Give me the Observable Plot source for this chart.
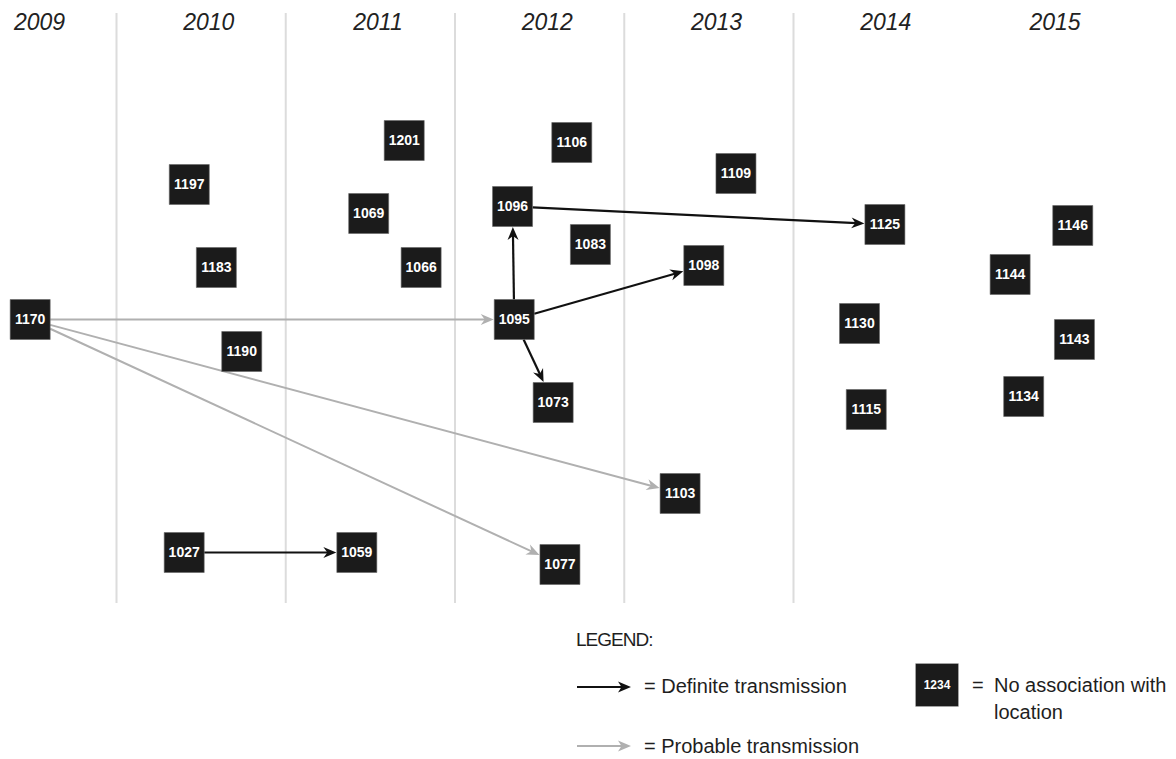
<!DOCTYPE html>
<html>
<head>
<meta charset="utf-8">
<script src="https://cdn.jsdelivr.net/npm/d3@7"></script>
<script src="https://cdn.jsdelivr.net/npm/@observablehq/plot@0.6"></script>
<style>
  html, body { margin: 0; padding: 0; background: #fff; }
  body { font-family: "Liberation Sans", Arial, Helvetica, sans-serif; }
  #wrap { position: relative; width: 1176px; height: 759px; overflow: hidden; }
  #chart { position: absolute; left: 0; top: 0; }
  .lg { position: absolute; font-size: 20px; line-height: 1; color: #1e1e1e; white-space: nowrap; }
  .lgbox { position: absolute; width: 42px; height: 42px; background: #1b1b1b; box-shadow: 0 0 0 0.6px #666;
           color: #fff; font-weight: bold; font-size: 12px; display: flex; align-items: center; justify-content: center; }
  .lgarrow { position: absolute; }
</style>
</head>
<body>
<div id="wrap">
  <div id="chart"></div>
  <div class="lg" style="left:576px; top:630px; font-size:19px; letter-spacing:-1px;">LEGEND:</div>
  <svg class="lgarrow" style="left:570px; top:677px;" width="70" height="20"><line x1="7" y1="10" x2="52" y2="10" stroke="#111" stroke-width="2.2"/><path d="M61,10 L48,4.5 L51.5,10 L48,15.5 Z" fill="#111"/></svg>
  <div class="lg" style="left:644px; top:676px;">= Definite transmission</div>
  <div class="lgbox" style="left:916px; top:664px;">1234</div>
  <div class="lg" style="left:972px; top:675px;">=</div>
  <div class="lg" style="left:994px; top:675px;">No association with</div>
  <div class="lg" style="left:994px; top:702px;">location</div>
  <svg class="lgarrow" style="left:570px; top:736px;" width="70" height="20"><line x1="7" y1="10" x2="52" y2="10" stroke="#b0b0b0" stroke-width="2"/><path d="M61,10 L48,4.5 L51.5,10 L48,15.5 Z" fill="#b0b0b0"/></svg>
  <div class="lg" style="left:644px; top:736px;">= Probable transmission</div>
</div>
<script>
// ---- data ----
const years = [2009, 2010, 2011, 2012, 2013, 2014, 2015];
const yearBoundaries = [2010, 2011, 2012, 2013, 2014];

const nodeIds   = ["1170", "1197", "1183", "1190", "1027",
                   "1201", "1069", "1066", "1059",
                   "1106", "1096", "1083", "1095", "1073", "1077",
                   "1109", "1098", "1103",
                   "1125", "1130", "1115",
                   "1146", "1144", "1143", "1134"];
// horizontal position, in fractional years
const nodeYear  = [2009.49, 2010.43, 2010.59, 2010.74, 2010.40,
                   2011.70, 2011.49, 2011.80, 2011.42,
                   2012.69, 2012.34, 2012.80, 2012.35, 2012.58, 2012.62,
                   2013.66, 2013.47, 2013.33,
                   2014.54, 2014.39, 2014.43,
                   2015.65, 2015.28, 2015.66, 2015.36];
// vertical position (arbitrary layout units, top = 0)
const nodeDepth = [319, 184, 267, 351, 552,
                   140, 213, 267, 552,
                   142, 206, 244, 319, 402, 564,
                   173, 265, 493,
                   224, 323, 409,
                   225, 274, 339, 396];

const definiteFrom = ["1027", "1095", "1095", "1095", "1096"];
const definiteTo   = ["1059", "1096", "1098", "1073", "1125"];
const probableFrom = ["1170", "1170", "1170"];
const probableTo   = ["1095", "1103", "1077"];

// ---- build ----
const W = 1176, H = 620;
const xOpts = {domain: [2010, 2014], range: [116, 793]};
const yOpts = {domain: [0, H], range: [0, H]};
const xs = Plot.scale({x: xOpts});
const ys = Plot.scale({y: yOpts});

const nodes = nodeIds.map((id, i) => ({id, x: nodeYear[i], y: nodeDepth[i]}));
const byId = new Map(nodes.map(n => [n.id, n]));

const HALF = 20;       // half side of the node squares (px)
const SQUARE_R = 2 * HALF / Math.sqrt(Math.PI);

function buildLinks(from, to) {
  return from.map((f, i) => {
    const a = byId.get(f), b = byId.get(to[i]);
    const ax = xs.apply(a.x), ay = ys.apply(a.y);
    const bx = xs.apply(b.x), by = ys.apply(b.y);
    const dx = bx - ax, dy = by - ay;
    const len = Math.hypot(dx, dy);
    const ux = dx / len, uy = dy / len;
    const t = Math.min(dx ? HALF / Math.abs(dx) : Infinity, dy ? HALF / Math.abs(dy) : Infinity);
    const sx = ax + dx * t, sy = ay + dy * t;
    const tx = bx - dx * t - ux * 0.5, ty = by - dy * t - uy * 0.5;
    const ex = tx - ux * 8, ey = ty - uy * 8;
    return {
      x1: xs.invert(sx), y1: ys.invert(sy),
      x2: xs.invert(ex), y2: ys.invert(ey),
      hx: xs.invert(tx), hy: ys.invert(ty),
      angle: Math.atan2(dy, dx) * 180 / Math.PI
    };
  });
}
const definite = buildLinks(definiteFrom, definiteTo);
const probable = buildLinks(probableFrom, probableTo);

const arrowHead = {
  draw(ctx) {
    ctx.moveTo(0, 0);
    ctx.lineTo(-13, -5.5);
    ctx.lineTo(-9, 0);
    ctx.lineTo(-13, 5.5);
    ctx.closePath();
  }
};

const FONT = "'Liberation Sans', Arial, Helvetica, sans-serif";

const plot = Plot.plot({
  width: W,
  height: H,
  margin: 0,
  x: {...xOpts, axis: null},
  y: {...yOpts, axis: null},
  style: {background: "#fff", fontFamily: FONT, overflow: "visible"},
  marks: [
    Plot.ruleX(yearBoundaries, {x: d => d, y1: () => 13, y2: () => 603, stroke: "#dcdcdc", strokeWidth: 2}),
    Plot.text(years, {x: d => d + 0.545, y: () => 22.5, text: d => String(d), fontSize: 23, fontStyle: "italic", fill: "#222", fontFamily: FONT}),
    Plot.link(probable, {x1: "x1", y1: "y1", x2: "x2", y2: "y2", stroke: "#b0b0b0", strokeWidth: 2}),
    Plot.dot(probable, {x: "hx", y: "hy", symbol: arrowHead, rotate: "angle", r: 6, fill: "#b0b0b0", stroke: "none"}),
    Plot.link(definite, {x1: "x1", y1: "y1", x2: "x2", y2: "y2", stroke: "#111", strokeWidth: 2.2}),
    Plot.dot(definite, {x: "hx", y: "hy", symbol: arrowHead, rotate: "angle", r: 6, fill: "#111", stroke: "none"}),
    Plot.dot(nodes, {x: "x", y: "y", symbol: "square", r: SQUARE_R, fill: "#1b1b1b", stroke: "#666", strokeWidth: 0.6}),
    Plot.text(nodes, {x: "x", y: "y", text: "id", fill: "#fff", fontSize: 14, fontWeight: "bold", fontFamily: FONT})
  ]
});
document.getElementById("chart").appendChild(plot);
</script>
</body>
</html>
